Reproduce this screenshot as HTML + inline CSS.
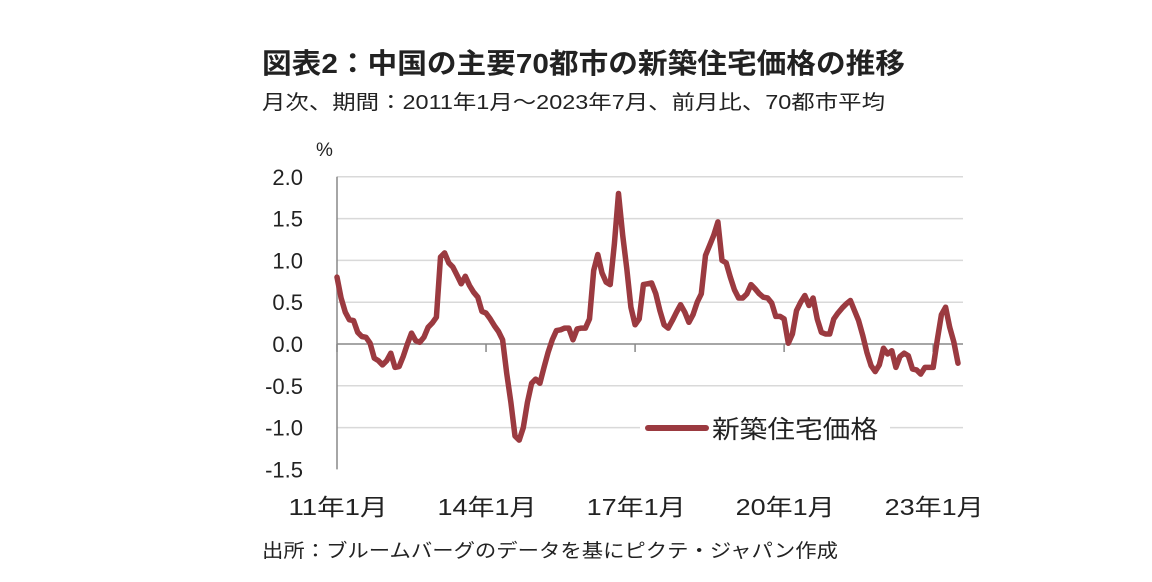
<!DOCTYPE html>
<html><head><meta charset="utf-8"><style>
body{margin:0;background:#fff;}
svg text{font-family:"Liberation Sans","Noto Sans CJK JP",sans-serif;fill:#222;}
</style></head><body>
<svg width="1152" height="577" viewBox="0 0 1152 577">
<text x="262" y="73" font-size="28" font-weight="bold" textLength="643" lengthAdjust="spacingAndGlyphs">図表2：中国の主要70都市の新築住宅価格の推移</text>
<text x="262" y="109" font-size="20" textLength="623" lengthAdjust="spacingAndGlyphs">月次、期間：2011年1月～2023年7月、前月比、70都市平均</text>
<text x="316" y="156" font-size="19">%</text>
<g id="grid"></g><g id="ylab"></g><g id="xlab"></g>
<path id="line" fill="none" stroke="#9b3a40" stroke-width="5.5" stroke-linejoin="round" stroke-linecap="round"/>
<rect x="640" y="410" width="250" height="34" fill="#fff"/>
<line x1="648" y1="428" x2="706" y2="428" stroke="#9b3a40" stroke-width="6" stroke-linecap="round"/>
<text x="712" y="438" font-size="25" textLength="166" lengthAdjust="spacingAndGlyphs">新築住宅価格</text>
<text x="262" y="557" font-size="19" textLength="576" lengthAdjust="spacingAndGlyphs">出所：ブルームバーグのデータを基にピクテ・ジャパン作成</text>
</svg>
<script>
const values=[0.80,0.55,0.38,0.29,0.28,0.14,0.09,0.08,0.01,-0.17,-0.20,-0.25,-0.20,-0.11,-0.28,-0.27,-0.15,0.00,0.13,0.04,0.02,0.08,0.20,0.25,0.32,1.04,1.09,0.97,0.92,0.82,0.72,0.81,0.70,0.62,0.56,0.39,0.37,0.30,0.22,0.15,0.05,-0.35,-0.70,-1.10,-1.15,-1.00,-0.70,-0.47,-0.42,-0.47,-0.28,-0.10,0.05,0.16,0.17,0.19,0.19,0.05,0.18,0.19,0.19,0.30,0.88,1.07,0.85,0.74,0.71,1.20,1.80,1.30,0.90,0.44,0.23,0.30,0.71,0.72,0.73,0.60,0.40,0.23,0.19,0.28,0.38,0.47,0.38,0.26,0.35,0.50,0.60,1.06,1.18,1.30,1.46,1.00,0.97,0.80,0.65,0.55,0.55,0.60,0.71,0.66,0.60,0.56,0.55,0.49,0.33,0.33,0.30,0.01,0.12,0.40,0.50,0.58,0.46,0.55,0.30,0.14,0.12,0.12,0.30,0.37,0.43,0.48,0.52,0.40,0.28,0.10,-0.10,-0.26,-0.33,-0.25,-0.05,-0.12,-0.08,-0.28,-0.15,-0.11,-0.14,-0.30,-0.31,-0.36,-0.28,-0.28,-0.28,0.05,0.35,0.44,0.20,0.02,-0.23];
const yTicks=[2.0,1.5,1.0,0.5,0.0,-0.5,-1.0,-1.5];
const yTickLabels=["2.0","1.5","1.0","0.5","0.0","-0.5","-1.0","-1.5"];
const xTickMonths=[0,36,72,108,144];
const xTickLabels=["11年1月","14年1月","17年1月","20年1月","23年1月"];
const NS="http://www.w3.org/2000/svg";
const X0=337,PX=4.14,Y0=344,PY=83.6;
const xs=m=>X0+m*PX, ys=v=>Y0-v*PY;
const grid=document.getElementById('grid'),yl=document.getElementById('ylab'),xl=document.getElementById('xlab');
yTicks.forEach((t,i)=>{
  if(t!==-1.5&&t!==0){const g=document.createElementNS(NS,'line');
  g.setAttribute('x1',X0);g.setAttribute('x2',963);g.setAttribute('y1',ys(t));g.setAttribute('y2',ys(t));
  g.setAttribute('stroke','#d9d9d9');g.setAttribute('stroke-width','1.5');
  
  
  grid.appendChild(g);}
  const tx=document.createElementNS(NS,'text');
  tx.setAttribute('x',303);tx.setAttribute('y',ys(t)+8);tx.setAttribute('text-anchor','end');tx.setAttribute('font-size','22');
  tx.textContent=yTickLabels[i];
  
  
  yl.appendChild(tx);
});
const ax=document.createElementNS(NS,'path');
ax.setAttribute('d',`M${X0},${ys(2)} V${ys(-1.5)} M${X0},${Y0} H963`);
ax.setAttribute('stroke','#888');ax.setAttribute('stroke-width','1.5');ax.setAttribute('fill','none');


grid.appendChild(ax);
xTickMonths.forEach((m,i)=>{
  const tk=document.createElementNS(NS,'line');
  tk.setAttribute('x1',xs(m));tk.setAttribute('x2',xs(m));tk.setAttribute('y1',Y0);tk.setAttribute('y2',Y0+8);
  tk.setAttribute('stroke','#888');tk.setAttribute('stroke-width','1.5');
  
  
  grid.appendChild(tk);
  const tx=document.createElementNS(NS,'text');
  tx.setAttribute('x',xs(m)+1);tx.setAttribute('y',515);tx.setAttribute('text-anchor','middle');tx.setAttribute('font-size','23');
  tx.setAttribute('textLength','99');tx.setAttribute('lengthAdjust','spacingAndGlyphs');
  tx.textContent=xTickLabels[i];
  
  
  xl.appendChild(tx);
});
document.getElementById('line').setAttribute('d',values.map((v,i)=>(i?'L':'M')+xs(i).toFixed(1)+','+ys(v).toFixed(1)).join(' '));
</script>
</body></html>
